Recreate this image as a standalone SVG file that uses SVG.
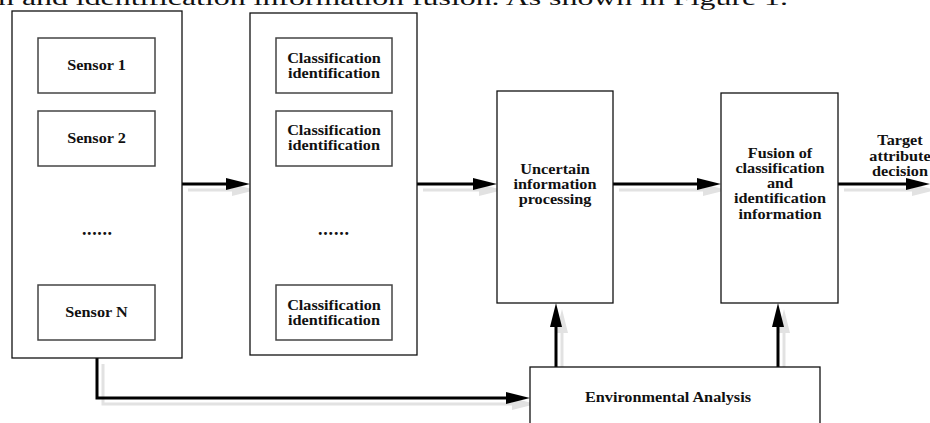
<svg xmlns="http://www.w3.org/2000/svg" width="930" height="423" viewBox="0 0 930 423">
<style>
.bg{fill:#fff}
.outer{fill:#fff;stroke:#111;stroke-width:1.3}
.inner{fill:#fff;stroke:#444;stroke-width:1.5}
.t{font-family:"Liberation Serif","Times New Roman",serif;font-weight:bold;font-size:14.5px;fill:#111;text-anchor:middle}
.dots{font-family:"Liberation Serif","Times New Roman",serif;font-weight:bold;font-size:18px;fill:#111}
.cap{font-family:"Liberation Serif","Times New Roman",serif;font-size:21px;fill:#111}
.conn{fill:none;stroke:#000;stroke-width:3}
.shadow{fill:none;stroke:#e2e2e2;stroke-width:3}
</style>
<defs>
<marker id="ah" markerUnits="userSpaceOnUse" markerWidth="24" markerHeight="12" refX="14" refY="6" orient="auto">
<path d="M0,0 L24,6 L0,12 z" fill="#000"/>
</marker>
<marker id="ahs" markerUnits="userSpaceOnUse" markerWidth="24" markerHeight="12" refX="14" refY="6" orient="auto">
<path d="M0,0 L24,6 L0,12 z" fill="#e2e2e2"/>
</marker>
</defs>
<rect class="bg" x="0" y="0" width="930" height="423"/>
<text class="cap" x="-2" y="5" textLength="790" lengthAdjust="spacingAndGlyphs">n and identification information fusion. As shown in Figure 1.</text>

<g id="connectors">
<g transform="translate(6,6)">
<path class="shadow" d="M182,184 H240" marker-end="url(#ahs)"/>
<path class="shadow" d="M417,184 H487" marker-end="url(#ahs)"/>
<path class="shadow" d="M613,184 H711" marker-end="url(#ahs)"/>
<path class="shadow" d="M838,184 H920" marker-end="url(#ahs)"/>
<path class="shadow" d="M97,358 V398 H520" marker-end="url(#ahs)"/>
<path class="shadow" d="M556,367 V313" marker-end="url(#ahs)"/>
<path class="shadow" d="M778,367 V313" marker-end="url(#ahs)"/>
</g>
<path class="conn" d="M182,184 H240" marker-end="url(#ah)"/>
<path class="conn" d="M417,184 H487" marker-end="url(#ah)"/>
<path class="conn" d="M613,184 H711" marker-end="url(#ah)"/>
<path class="conn" d="M838,184 H920" marker-end="url(#ah)"/>
<path class="conn" d="M97,358 V398 H520" marker-end="url(#ah)"/>
<path class="conn" d="M556,367 V313" marker-end="url(#ah)"/>
<path class="conn" d="M778,367 V313" marker-end="url(#ah)"/>
</g>

<g id="sensors">
<rect class="outer" x="12" y="11" width="170" height="347"/>
</g>
<g id="sensor1">
<rect class="inner" x="38" y="38" width="117" height="55"/>
<text class="t" transform="translate(96.5,69.5) scale(1.12,1)">Sensor 1</text>
</g>
<g id="sensor2">
<rect class="inner" x="38" y="111" width="117" height="55"/>
<text class="t" transform="translate(96.5,142.5) scale(1.12,1)">Sensor 2</text>
</g>
<g id="sensor-dots">
<text class="dots" x="82" y="235" textLength="30" lengthAdjust="spacing">......</text>
</g>
<g id="sensorN">
<rect class="inner" x="38" y="285" width="117" height="55"/>
<text class="t" transform="translate(96.5,317) scale(1.12,1)">Sensor N</text>
</g>

<g id="classifiers">
<rect class="outer" x="250" y="13" width="167" height="342"/>
</g>
<g id="class1">
<rect class="inner" x="276" y="38" width="116" height="55"/>
<text class="t" transform="translate(334,62.5) scale(1.12,1)">Classification</text>
<text class="t" transform="translate(334,77.5) scale(1.12,1)">identification</text>
</g>
<g id="class2">
<rect class="inner" x="276" y="111" width="116" height="55"/>
<text class="t" transform="translate(334,134.5) scale(1.12,1)">Classification</text>
<text class="t" transform="translate(334,149.5) scale(1.12,1)">identification</text>
</g>
<g id="class-dots">
<text class="dots" x="318" y="235" textLength="31" lengthAdjust="spacing">......</text>
</g>
<g id="classN">
<rect class="inner" x="276" y="285" width="116" height="55"/>
<text class="t" transform="translate(334,309.5) scale(1.12,1)">Classification</text>
<text class="t" transform="translate(334,324.5) scale(1.12,1)">identification</text>
</g>

<g id="uncertain">
<rect class="outer" x="497" y="91" width="116" height="212"/>
<text class="t" transform="translate(555,173.5) scale(1.12,1)">Uncertain</text>
<text class="t" transform="translate(555,188.5) scale(1.12,1)">information</text>
<text class="t" transform="translate(555,203.5) scale(1.12,1)">processing</text>
</g>

<g id="fusion">
<rect class="outer" x="721" y="93" width="117" height="210"/>
<text class="t" transform="translate(780,157.5) scale(1.12,1)">Fusion of</text>
<text class="t" transform="translate(780,172.8) scale(1.12,1)">classification</text>
<text class="t" transform="translate(780,188) scale(1.12,1)">and</text>
<text class="t" transform="translate(780,203.3) scale(1.12,1)">identification</text>
<text class="t" transform="translate(780,218.7) scale(1.12,1)">information</text>
</g>

<g id="target">
<text class="t" transform="translate(900,145) scale(1.12,1)">Target</text>
<text class="t" transform="translate(900,160.7) scale(1.12,1)">attribute</text>
<text class="t" transform="translate(900,175.7) scale(1.12,1)">decision</text>
</g>

<g id="environment">
<rect class="outer" x="530" y="367" width="290" height="80"/>
<text class="t" transform="translate(668,402) scale(1.12,1)">Environmental Analysis</text>
</g>
</svg>
